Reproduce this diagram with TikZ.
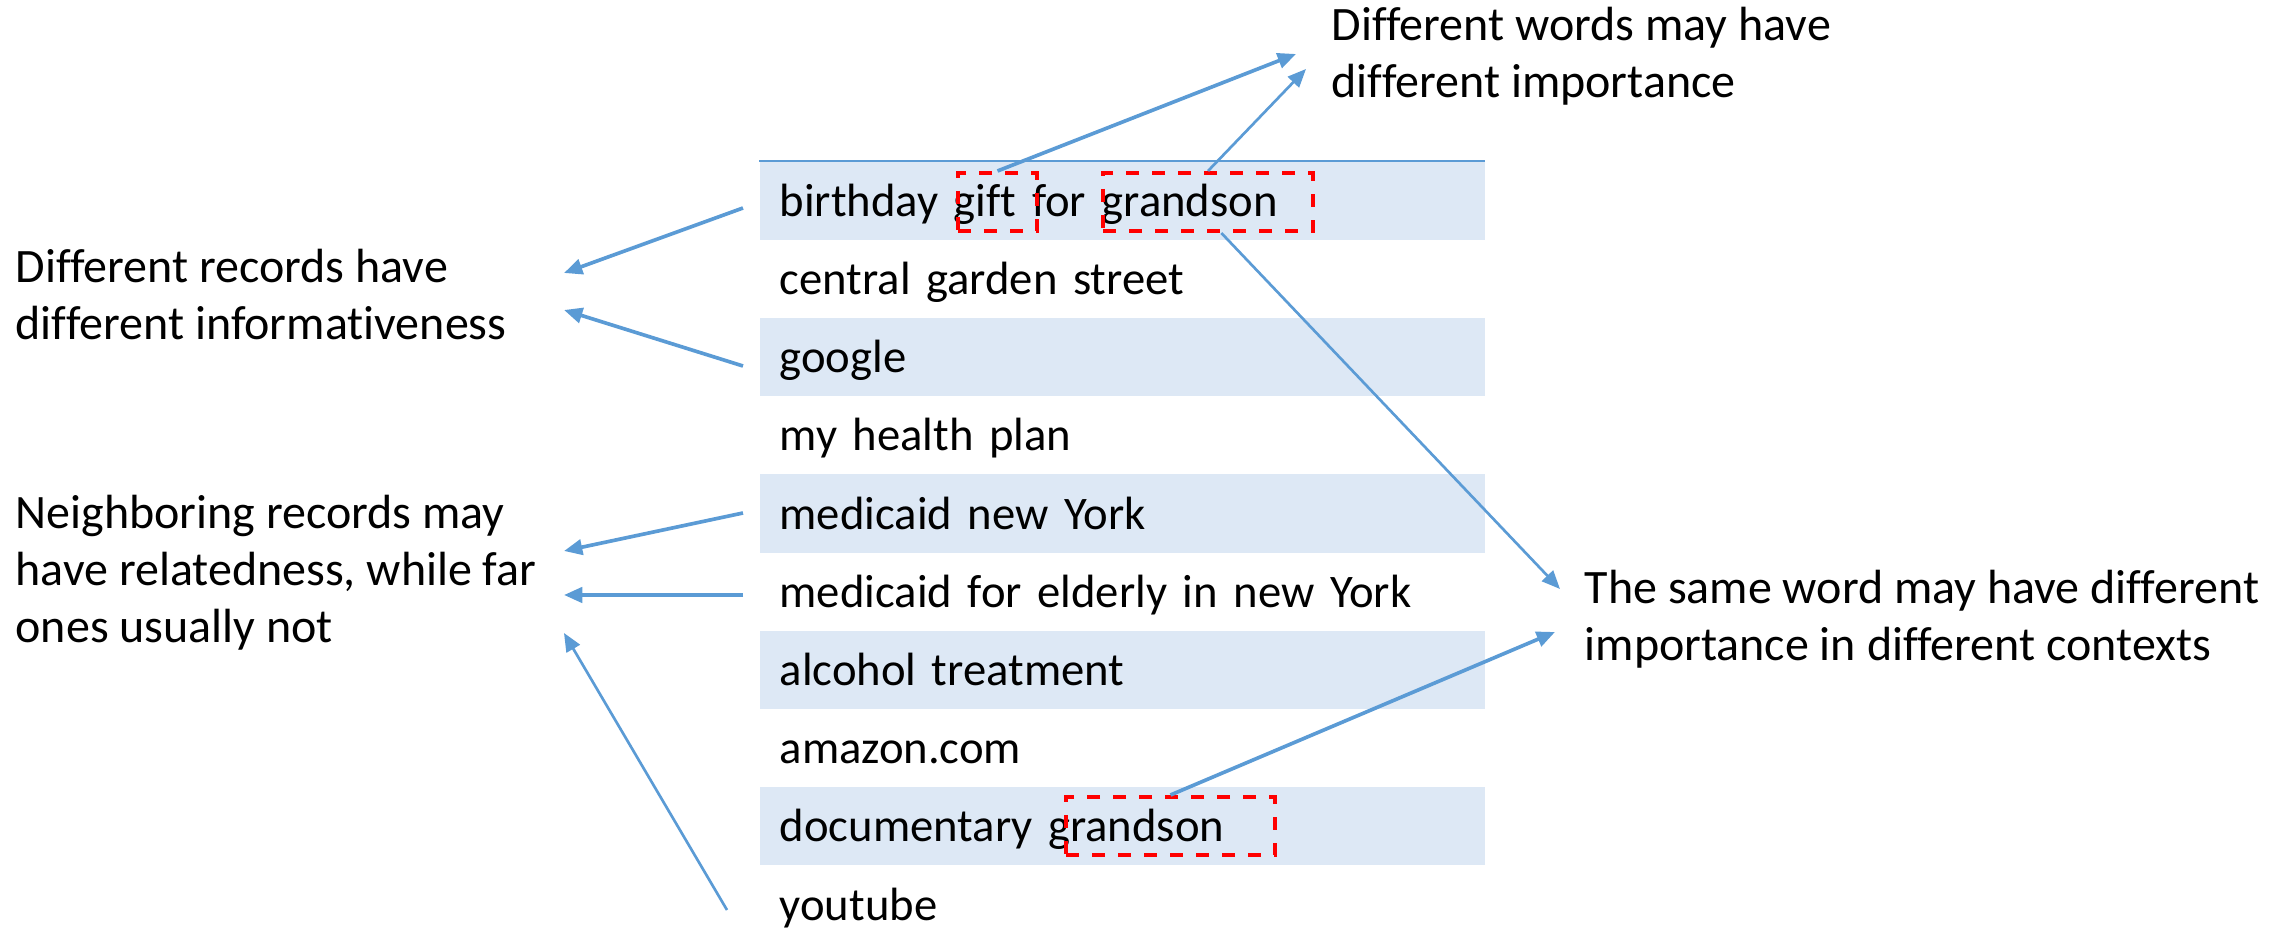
\documentclass[tikz,border=0pt]{standalone}
\usepackage{fontspec}
\setmainfont{Carlito}[Ligatures=NoCommon]
\newfontfamily\recordfont{Carlito}[Ligatures=NoCommon, WordSpace=0.85]
\usetikzlibrary{arrows.meta}
\definecolor{linkblue}{HTML}{5B9BD5}
\definecolor{bandblue}{HTML}{DDE8F5}
\definecolor{markred}{HTML}{FF0000}
% strut that sets where the record text sits inside its row
\newcommand\recstrut{\rule[-0.25em]{0pt}{1.17em}}
\begin{document}
\begin{tikzpicture}[x=0.3pt,y=-0.3pt,
  record/.style={anchor=north west, minimum width=217.5pt, minimum height=23.46pt,
    text width=205.5pt, inner xsep=6pt, inner ysep=0pt, align=left,
    font=\recordfont\fontsize{14}{16.8}\selectfont,
    execute at begin node=\recstrut},
  band/.style={record, fill=bandblue},
  note/.style={anchor=north west, align=left, inner sep=0pt, font=\fontsize{14.4}{17.1}\selectfont},
  wordbox/.style={draw=markred, line width=1.2pt, dash pattern=on 3.9pt off 3.9pt, inner sep=0pt},
  pointer/.style={draw=linkblue, line width=1.1pt, -{Triangle[length=5.5pt,width=4.6pt]}},
  thinpointer/.style={pointer, line width=0.8pt}
]
\useasboundingbox (0,0) rectangle (2293,937);

% list of records, alternating shaded rows
\node[band]   (r0) at (759,161.0) {birthday gift for grandson};
\node[record] (r1) at (759,239.2) {central garden street};
\node[band]   (r2) at (759,317.4) {google};
\node[record] (r3) at (759,395.6) {my health plan};
\node[band]   (r4) at (759,473.8) {medicaid new York};
\node[record] (r5) at (759,552.0) {medicaid for elderly in new York};
\node[band]   (r6) at (759,630.2) {alcohol treatment};
\node[record] (r7) at (759,708.4) {amazon.com};
\node[band]   (r8) at (759,786.6) {documentary grandson};
\node[record] (r9) at (759,864.8) {youtube};
\draw[linkblue, line width=0.75pt] (r0.north west) -- (r0.north east);

% highlighted words
\node[wordbox, minimum width=23.7pt, minimum height=17.4pt] (w1) at (997.5,202) {};
\node[wordbox, minimum width=63pt, minimum height=17.4pt] (w2) at (1208,202) {};
\node[wordbox, minimum width=62.7pt, minimum height=17.4pt] (w3) at (1170.5,826) {};

% annotations
\node[note] (informative) at (15,249) {Different records have\\different informativeness};
\node[note] (neighbor) at (15,495) {Neighboring records may\\have relatedness, while far\\ones usually not};
\node[note] (wordimp) at (1331,7) {Different words may have\\different importance};
\node[note] (context) at (1584,570) {The same word may have different\\importance in different contexts};

% arrow ends
\coordinate (a1) at (743,208);  \coordinate (b1) at (564,273);
\coordinate (a2) at (743,366);  \coordinate (b2) at (564,310);
\coordinate (a3) at (743,513);  \coordinate (b3) at (564,551);
\coordinate (a4) at (743,595);  \coordinate (b4) at (564,595);
\coordinate (a5) at (727,910);  \coordinate (b5) at (564,633);
\coordinate (b6) at (1296,54);
\coordinate (b7) at (1306,69);
\coordinate (b8) at (1560,589);
\coordinate (b9) at (1555,632);

\draw[pointer] (a1) -- (b1);
\draw[pointer] (a2) -- (b2);
\draw[pointer] (a3) -- (b3);
\draw[pointer] (a4) -- (b4);
\draw[thinpointer] (a5) -- (b5);
\draw[pointer] (w1.north) -- (b6);
\draw[thinpointer] (w2.north) -- (b7);
\draw[thinpointer] ([xshift=4pt]w2.south) -- (b8);
\draw[pointer] (w3.north) -- (b9);
\end{tikzpicture}
\end{document}
